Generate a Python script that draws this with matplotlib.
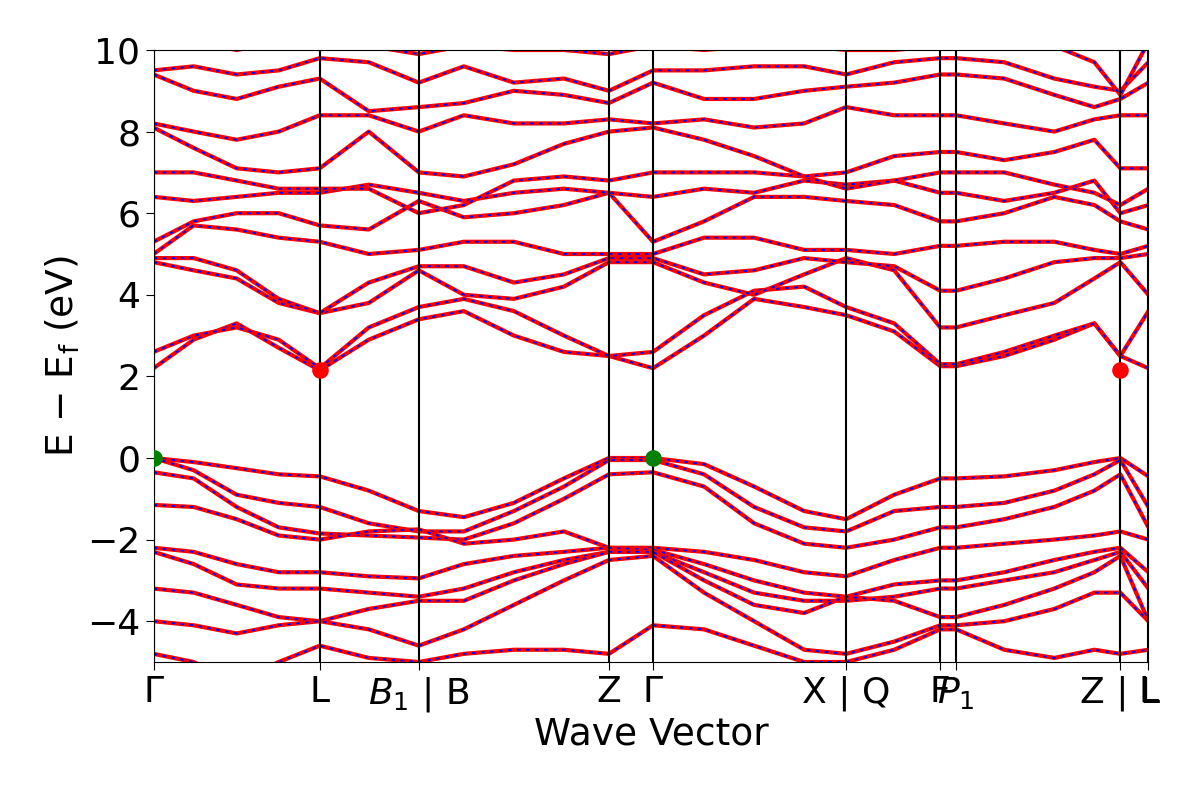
import matplotlib
matplotlib.use("Agg")
import matplotlib.pyplot as plt

kx = [0, 40, 83, 125, 166, 215, 265, 310, 360, 410, 455, 499, 550, 600, 650, 692, 740, 786, 802, 850, 900, 940, 966, 994]
tick_pos = [0, 166, 265, 455, 499, 692, 786, 802, 966, 994]
tick_labels = ["Γ", "L", "$B_1$ | B", "Z", "Γ", "X | Q", "F", "$P_1$", "Z | L", "L"]

bands = [
 [0,-0.1,-0.25,-0.4,-0.45,-0.8,-1.3,-1.45,-1.1,-0.5,0,0,-0.15,-0.7,-1.3,-1.5,-0.9,-0.5,-0.5,-0.45,-0.3,-0.1,0,-0.45],
 [0,-0.3,-0.9,-1.1,-1.2,-1.6,-1.8,-1.8,-1.3,-0.7,-0.05,-0.05,-0.4,-1.2,-1.7,-1.8,-1.3,-1.2,-1.2,-1.1,-0.8,-0.4,-0.05,-1.2],
 [-0.35,-0.5,-1.2,-1.7,-1.85,-1.9,-1.95,-2.0,-1.6,-1.0,-0.4,-0.35,-0.7,-1.6,-2.1,-2.2,-2.0,-1.7,-1.7,-1.5,-1.2,-0.8,-0.4,-1.7],
 [-1.15,-1.2,-1.5,-1.9,-2.0,-1.8,-1.75,-2.1,-2.0,-1.8,-2.2,-2.2,-2.3,-2.5,-2.8,-2.9,-2.5,-2.2,-2.2,-2.1,-2.0,-1.9,-1.8,-2.0],
 [-2.2,-2.3,-2.6,-2.8,-2.8,-2.9,-2.95,-2.6,-2.4,-2.3,-2.2,-2.25,-2.6,-3.0,-3.3,-3.4,-3.1,-3.0,-3.0,-2.8,-2.5,-2.3,-2.2,-2.8],
 [-2.3,-2.6,-3.1,-3.2,-3.2,-3.3,-3.4,-3.2,-2.8,-2.5,-2.3,-2.3,-2.8,-3.3,-3.5,-3.5,-3.4,-3.2,-3.2,-3.0,-2.8,-2.5,-2.3,-3.2],
 [-3.2,-3.3,-3.6,-3.9,-4.0,-3.7,-3.5,-3.5,-3.0,-2.6,-2.3,-2.3,-3.0,-3.6,-3.8,-3.4,-3.5,-3.9,-3.9,-3.6,-3.2,-2.8,-2.4,-4.0],
 [-4.0,-4.1,-4.3,-4.1,-4.0,-4.2,-4.6,-4.2,-3.6,-3.0,-2.5,-2.4,-3.3,-4.0,-4.7,-4.8,-4.5,-4.1,-4.1,-4.0,-3.7,-3.3,-3.3,-4.0],
 [-4.8,-5,-5.5,-5,-4.6,-4.9,-5.0,-4.8,-4.7,-4.7,-4.8,-4.1,-4.2,-4.6,-5.0,-5.0,-4.7,-4.2,-4.2,-4.7,-4.9,-4.7,-4.8,-4.7],
 [2.2,2.9,3.3,2.7,2.15,2.9,3.4,3.6,3.0,2.6,2.5,2.2,3.0,3.9,3.7,3.5,3.1,2.25,2.25,2.5,2.9,3.3,2.5,2.2],
 [2.6,3.0,3.2,2.9,2.2,3.2,3.7,3.9,3.6,3.0,2.5,2.6,3.5,4.1,4.2,3.7,3.3,2.3,2.3,2.6,3.0,3.3,2.5,3.6],
 [4.8,4.6,4.4,3.8,3.55,3.8,4.6,4.0,3.9,4.2,4.8,4.8,4.3,4.0,4.5,4.9,4.6,3.2,3.2,3.5,3.8,4.4,4.8,4.0],
 [4.9,4.9,4.6,3.9,3.55,4.3,4.7,4.7,4.3,4.5,4.9,4.9,4.5,4.6,4.9,4.8,4.7,4.1,4.1,4.4,4.8,4.9,4.9,5.0],
 [5.0,5.7,5.6,5.4,5.3,5.0,5.1,5.3,5.3,5.0,5.0,5.0,5.4,5.4,5.1,5.1,5.0,5.2,5.2,5.3,5.3,5.1,5.0,5.2],
 [5.3,5.8,6.0,6.0,5.7,5.6,6.3,5.9,6.0,6.2,6.5,5.3,5.8,6.4,6.4,6.3,6.2,5.8,5.8,6.0,6.4,6.2,5.8,5.6],
 [6.4,6.3,6.4,6.5,6.5,6.7,6.5,6.3,6.5,6.6,6.5,6.4,6.6,6.5,6.8,6.7,6.8,6.5,6.5,6.3,6.5,6.8,6.0,6.2],
 [7.0,7.0,6.8,6.6,6.6,6.6,6.0,6.2,6.8,6.9,6.8,7.0,7.0,7.0,6.9,6.6,6.8,7.0,7.0,7.0,6.7,6.5,6.2,6.6],
 [8.1,7.6,7.1,7.0,7.1,8.0,7.0,6.9,7.2,7.7,8.0,8.1,7.8,7.4,6.9,7.0,7.4,7.5,7.5,7.3,7.5,7.8,7.1,7.1],
 [8.2,8.0,7.8,8.0,8.4,8.4,8.0,8.4,8.2,8.2,8.3,8.2,8.3,8.1,8.2,8.6,8.4,8.4,8.4,8.2,8.0,8.3,8.4,8.4],
 [9.4,9.0,8.8,9.1,9.3,8.5,8.6,8.7,9.0,8.9,8.7,9.2,8.8,8.8,9.0,9.1,9.2,9.4,9.4,9.3,8.9,8.6,8.8,9.2],
 [9.5,9.6,9.4,9.5,9.8,9.7,9.2,9.6,9.2,9.3,9.0,9.5,9.5,9.6,9.6,9.4,9.7,9.8,9.8,9.7,9.3,9.1,9.0,9.7],
 [10.1,10.2,10,10.2,10.2,10.1,9.9,10.1,10.0,10.0,9.9,10.1,10,10.1,10.1,10.0,10.0,10.1,10.1,10.2,10.1,9.7,8.9,10.2],
]

vbm_x = [0, 499]; vbm_y = [0, 0]
cbm_x = [166, 966]; cbm_y = [2.15, 2.15]

fig = plt.figure(figsize=(12, 8), dpi=100)
ax = fig.add_axes([0.128, 0.1725, 0.829, 0.765])
for b in bands:
    ax.plot(kx, b, color="red", lw=3, solid_capstyle="round")
    ax.plot(kx, b, color="blue", lw=1.3, ls=(0, (2, 3)))
for p in tick_pos:
    ax.axvline(p, color="black", lw=1.5)
ax.scatter(vbm_x, vbm_y, s=120, color="green", zorder=5)
ax.scatter(cbm_x, cbm_y, s=120, color="red", zorder=5)
ax.set_xlim(0, 994)
ax.set_ylim(-5, 10)
ax.set_xticks(tick_pos)
ax.set_xticklabels(tick_labels)
ax.tick_params(labelsize=26, length=6)
ax.set_yticks([-4, -2, 0, 2, 4, 6, 8, 10])
ax.set_ylabel(r"E $-$ E$_\mathrm{f}$ (eV)", fontsize=27)
ax.set_xlabel("Wave Vector", fontsize=27, labelpad=2)
fig.savefig("out.png", dpi=100)
